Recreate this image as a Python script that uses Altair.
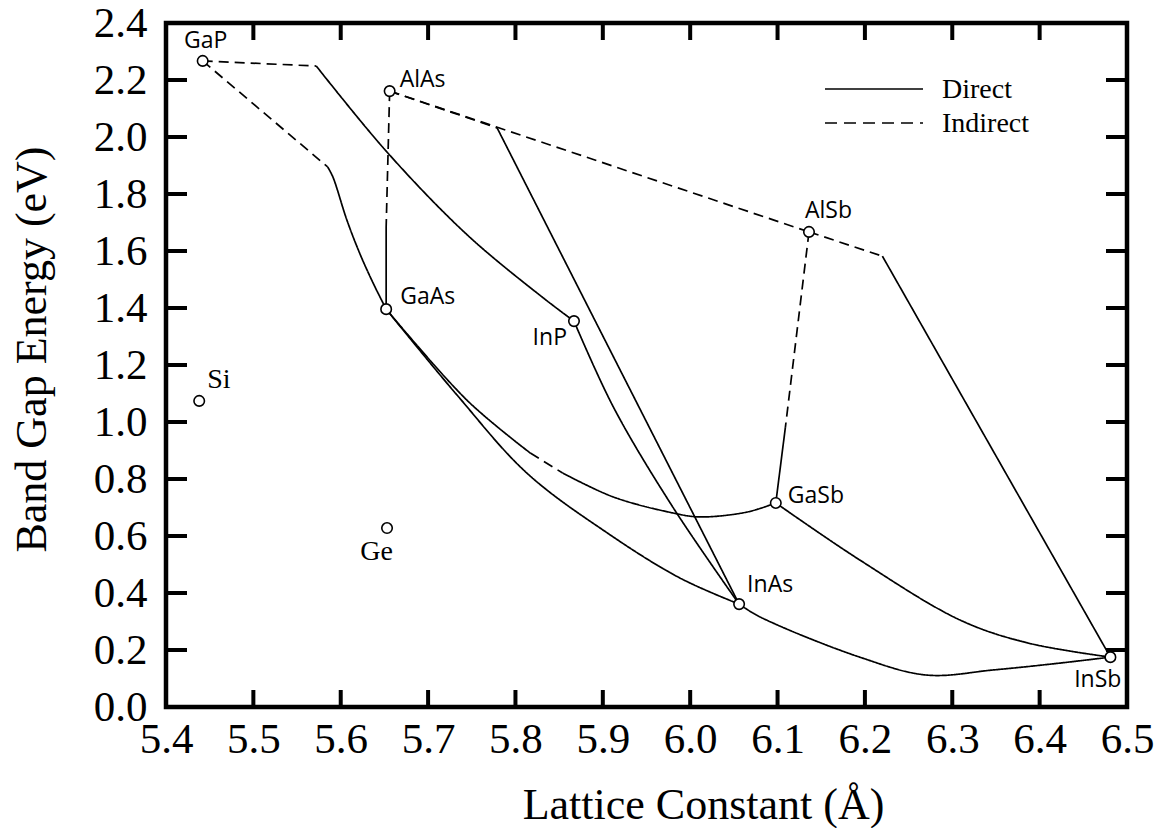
import altair as alt
import pandas as pd

# ---------------- data ----------------
compounds = ["GaP", "AlAs", "GaAs", "InP", "AlSb", "GaSb", "InAs", "InSb", "Si", "Ge"]
comp_a = [5.442, 5.656, 5.652, 5.867, 6.136, 6.098, 6.056, 6.481, 5.438, 5.653]
comp_e = [2.267, 2.161, 1.396, 1.354, 1.667, 0.716, 0.361, 0.175, 1.074, 0.628]

# alloy segments: lattice constants and band gaps along each curve
GaInP_ind_a = [5.442, 5.572]
GaInP_ind_e = [2.267, 2.249]
GaInP_dir_a = [5.572, 5.653, 5.745, 5.832, 5.867]
GaInP_dir_e = [2.249, 1.947, 1.656, 1.435, 1.354]

GaAsP_ind_a = [5.442, 5.585]
GaAsP_ind_e = [2.267, 1.895]
GaAsP_dir_a = [5.585, 5.591, 5.607, 5.622, 5.637, 5.652]
GaAsP_dir_e = [1.895, 1.860, 1.709, 1.590, 1.488, 1.396]

AlGaAs_ind_a = [5.656, 5.652]
AlGaAs_ind_e = [2.161, 1.684]
AlGaAs_dir_a = [5.652, 5.652]
AlGaAs_dir_e = [1.684, 1.396]

AlInAs_ind_a = [5.656, 5.779]
AlInAs_ind_e = [2.161, 2.032]
AlInAs_dir_a = [5.779, 6.056]
AlInAs_dir_e = [2.032, 0.361]

AlAsSb_ind_a = [5.656, 6.136]
AlAsSb_ind_e = [2.161, 1.667]

AlInSb_ind_a = [6.136, 6.220]
AlInSb_ind_e = [1.667, 1.582]
AlInSb_dir_a = [6.220, 6.481]
AlInSb_dir_e = [1.582, 0.175]

AlGaSb_ind_a = [6.136, 6.109]
AlGaSb_ind_e = [1.667, 0.982]
AlGaSb_dir_a = [6.109, 6.098]
AlGaSb_dir_e = [0.982, 0.716]

GaAsSb_dir1_a = [5.652, 5.745, 5.817]
GaAsSb_dir1_e = [1.396, 1.075, 0.891]
GaAsSb_ind_a = [5.817, 5.854]
GaAsSb_ind_e = [0.891, 0.821]
GaAsSb_dir2_a = [5.854, 5.912, 5.980, 6.011, 6.065, 6.098]
GaAsSb_dir2_e = [0.821, 0.737, 0.681, 0.667, 0.684, 0.716]

GaInAs_dir_a = [5.652, 5.733, 5.813, 5.905, 5.988, 6.056]
GaInAs_dir_e = [1.396, 1.095, 0.821, 0.611, 0.453, 0.361]

InAsP_dir_a = [5.867, 5.912, 5.980, 6.056]
InAsP_dir_e = [1.354, 1.053, 0.702, 0.361]

GaInSb_dir_a = [6.098, 6.194, 6.309, 6.386, 6.481]
GaInSb_dir_e = [0.716, 0.516, 0.305, 0.225, 0.175]

InAsSb_dir_a = [6.056, 6.080, 6.194, 6.271, 6.347, 6.423, 6.481]
InAsSb_dir_e = [0.361, 0.316, 0.175, 0.112, 0.130, 0.154, 0.175]

segments = [
    ("GaInP_ind", "Indirect", GaInP_ind_a, GaInP_ind_e),
    ("GaInP_dir", "Direct", GaInP_dir_a, GaInP_dir_e),
    ("GaAsP_ind", "Indirect", GaAsP_ind_a, GaAsP_ind_e),
    ("GaAsP_dir", "Direct", GaAsP_dir_a, GaAsP_dir_e),
    ("AlGaAs_ind", "Indirect", AlGaAs_ind_a, AlGaAs_ind_e),
    ("AlGaAs_dir", "Direct", AlGaAs_dir_a, AlGaAs_dir_e),
    ("AlInAs_ind", "Indirect", AlInAs_ind_a, AlInAs_ind_e),
    ("AlInAs_dir", "Direct", AlInAs_dir_a, AlInAs_dir_e),
    ("AlAsSb_ind", "Indirect", AlAsSb_ind_a, AlAsSb_ind_e),
    ("AlInSb_ind", "Indirect", AlInSb_ind_a, AlInSb_ind_e),
    ("AlInSb_dir", "Direct", AlInSb_dir_a, AlInSb_dir_e),
    ("AlGaSb_ind", "Indirect", AlGaSb_ind_a, AlGaSb_ind_e),
    ("AlGaSb_dir", "Direct", AlGaSb_dir_a, AlGaSb_dir_e),
    ("GaAsSb_dir1", "Direct", GaAsSb_dir1_a, GaAsSb_dir1_e),
    ("GaAsSb_ind", "Indirect", GaAsSb_ind_a, GaAsSb_ind_e),
    ("GaAsSb_dir2", "Direct", GaAsSb_dir2_a, GaAsSb_dir2_e),
    ("GaInAs_dir", "Direct", GaInAs_dir_a, GaInAs_dir_e),
    ("InAsP_dir", "Direct", InAsP_dir_a, InAsP_dir_e),
    ("GaInSb_dir", "Direct", GaInSb_dir_a, GaInSb_dir_e),
    ("InAsSb_dir", "Direct", InAsSb_dir_a, InAsSb_dir_e),
]

x_ticks = [5.4, 5.5, 5.6, 5.7, 5.8, 5.9, 6.0, 6.1, 6.2, 6.3, 6.4, 6.5]
y_ticks = [0.0, 0.2, 0.4, 0.6, 0.8, 1.0, 1.2, 1.4, 1.6, 1.8, 2.0, 2.2, 2.4]
legend_labels = ["Direct", "Indirect"]

# ---------------- build tables ----------------
rows = []
for name, kind, aa, ee in segments:
    for i, (a, e) in enumerate(zip(aa, ee)):
        rows.append({"seg": name, "kind": kind, "a": a, "E": e, "i": i})
lines_df = pd.DataFrame(rows)
pts_df = pd.DataFrame({"name": compounds, "a": comp_a, "E": comp_e})
xt_df = pd.DataFrame({"t": x_ticks[1:-1]})
yt_df = pd.DataFrame({"t": y_ticks[1:-1]})

# ---------------- styles ----------------
W, H = 961, 684
SERIF = "Liberation Serif, Times New Roman, Times, serif"
SANS = "Open Sans, Noto Sans, sans-serif"
DASH = [10, 6]

xscale = alt.Scale(domain=[5.4, 6.5], nice=False, zero=False)
yscale = alt.Scale(domain=[0, 2.4], nice=False, zero=False)

xenc = alt.X("a:Q", scale=xscale, axis=alt.Axis(
    values=x_ticks, format=".1f", title="Lattice Constant (Å)",
    ticks=False, domain=False, grid=False, labelFlush=False, labelOverlap=False,
    labelFont=SERIF, labelFontSize=43, labelColor="black", labelPadding=11,
    titleFont=SERIF, titleFontSize=44, titleFontWeight="normal", titleColor="black",
    titleX=537, titleY=111, titleBaseline="alphabetic", titleAlign="center"))
yenc = alt.Y("E:Q", scale=yscale, axis=alt.Axis(
    values=y_ticks, format=".1f", title="Band Gap Energy (eV)",
    ticks=False, domain=False, grid=False, labelOverlap=False,
    labelFont=SERIF, labelFontSize=43, labelColor="black", labelPadding=19,
    titleFont=SERIF, titleFontSize=44, titleFontWeight="normal", titleColor="black",
    titleX=-121, titleY=326, titleAngle=270, titleBaseline="alphabetic", titleAlign="center"))

lines = alt.Chart(lines_df).mark_line(color="black", strokeWidth=1.7, interpolate="catmull-rom").encode(
    x=xenc, y=yenc, detail="seg:N", order="i:Q",
    strokeDash=alt.StrokeDash("kind:N", scale=alt.Scale(domain=legend_labels, range=[[1, 0], DASH]), legend=None),
)

points = alt.Chart(pts_df).mark_point(shape="circle", filled=True, fill="white", stroke="black",
                                      strokeWidth=1.6, size=110, opacity=1).encode(
    x=alt.X("a:Q", scale=xscale), y=alt.Y("E:Q", scale=yscale))

label_style = {
    "GaP": dict(dx=3, dy=-13, align="center", font=SANS, fontSize=23),
    "AlAs": dict(dx=10, dy=-4, align="left", font=SANS, fontSize=23),
    "GaAs": dict(dx=14, dy=-5, align="left", font=SANS, fontSize=23),
    "InP": dict(dx=-7, dy=24, align="right", font=SANS, fontSize=23),
    "AlSb": dict(dx=-4, dy=-14, align="left", font=SANS, fontSize=23),
    "GaSb": dict(dx=12, dy=0, align="left", font=SANS, fontSize=23),
    "InAs": dict(dx=8, dy=-12, align="left", font=SANS, fontSize=23),
    "InSb": dict(dx=11, dy=30, align="right", font=SANS, fontSize=23),
    "Si": dict(dx=8, dy=-13, align="left", font=SERIF, fontSize=28),
    "Ge": dict(dx=6, dy=32, align="right", font=SERIF, fontSize=28),
}
label_layers = []
for nm in compounds:
    st = label_style[nm]
    label_layers.append(
        alt.Chart(pts_df).transform_filter(alt.datum.name == nm)
        .mark_text(baseline="alphabetic", color="black", **st)
        .encode(x=alt.X("a:Q", scale=xscale), y=alt.Y("E:Q", scale=yscale), text="name:N")
    )

TW = 4
bottom_ticks = alt.Chart(xt_df).mark_rule(color="black", strokeWidth=TW).encode(
    x=alt.X("t:Q", scale=xscale), y=alt.value(H), y2=alt.value(H - 17))
top_ticks = alt.Chart(xt_df).mark_rule(color="black", strokeWidth=TW).encode(
    x=alt.X("t:Q", scale=xscale), y=alt.value(0), y2=alt.value(17))
left_ticks = alt.Chart(yt_df).mark_rule(color="black", strokeWidth=TW).encode(
    y=alt.Y("t:Q", scale=yscale), x=alt.value(0), x2=alt.value(21))
right_ticks = alt.Chart(yt_df).mark_rule(color="black", strokeWidth=TW).encode(
    y=alt.Y("t:Q", scale=yscale), x=alt.value(W), x2=alt.value(W - 21))

# legend (upper right, inside plot)
leg_solid = alt.Chart(pd.DataFrame({"k": [legend_labels[0]]})).mark_rule(color="black", strokeWidth=1.7).encode(
    x=alt.value(659), x2=alt.value(757), y=alt.value(66))
leg_dash = alt.Chart(pd.DataFrame({"k": [legend_labels[1]]})).mark_rule(color="black", strokeWidth=1.7, strokeDash=[12, 7]).encode(
    x=alt.value(659), x2=alt.value(757), y=alt.value(100))
leg_t1 = alt.Chart(pd.DataFrame({"k": [legend_labels[0]]})).mark_text(
    font=SERIF, fontSize=28, align="left", baseline="alphabetic", color="black").encode(
    x=alt.value(776), y=alt.value(75), text="k:N")
leg_t2 = alt.Chart(pd.DataFrame({"k": [legend_labels[1]]})).mark_text(
    font=SERIF, fontSize=28, align="left", baseline="alphabetic", color="black").encode(
    x=alt.value(776), y=alt.value(109), text="k:N")

chart = alt.layer(
    lines, bottom_ticks, top_ticks, left_ticks, right_ticks, points, *label_layers,
    leg_solid, leg_dash, leg_t1, leg_t2
).properties(
    width=W, height=H,
    background="white",
    autosize=alt.AutoSizeParams(type="none"),
    padding={"left": 166, "top": 23, "right": 35, "bottom": 121},
).configure_view(stroke="black", strokeWidth=4.5)

chart.save("out.html", embed_options={"renderer": "svg", "actions": False})
